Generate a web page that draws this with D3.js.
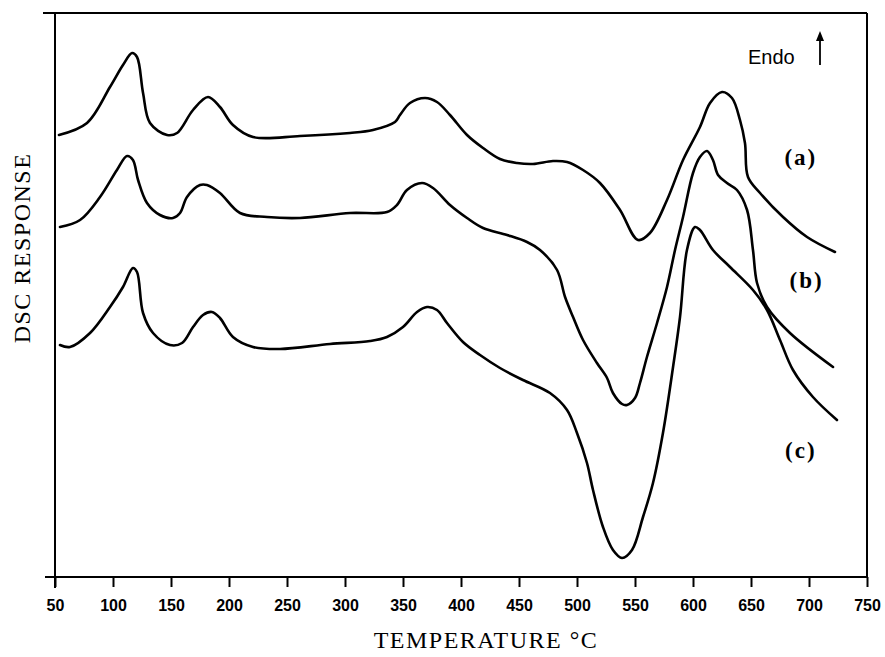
<!DOCTYPE html>
<html>
<head>
<meta charset="utf-8">
<script src="https://cdn.jsdelivr.net/npm/d3@7"></script>
<style>
  body { margin: 0; background: #fff; }
  svg { display: block; }
</style>
</head>
<body>
<div id="chart"></div>
<script>
/**
 * CONSTANTS AND GLOBALS
 * */
const width = 885,
  height = 657,
  margin = { top: 13, right: 18, bottom: 80, left: 55 };

// x tick labels (temperature, °C)
const xTicks = [50, 100, 150, 200, 250, 300, 350, 400, 450, 500, 550, 600, 650, 700, 750];

// curve (a) - temperature / DSC response (arbitrary units)
const tempA = [53.4, 77.6, 97.4, 108.6, 116.4, 120.7, 125.9, 131.9, 146.6, 155.2, 169, 181.9, 192.2, 203.4, 220.7,
  261.2, 304.3, 324.1, 343.1, 347.4, 356, 369, 379.3, 390.5, 405.2, 419, 433.6, 448.3, 462.1, 479.3, 491.4, 505.2,
  519.8, 537.1, 552.6, 562.9, 577.6, 591.4, 606, 614.7, 625, 633.6, 640.5, 644.8, 647.4, 657.8, 677.6, 698.3, 722.4];
const dscA = [44.2, 45.4, 49.0, 51.2, 52.4, 52.0, 48.4, 45.4, 44.2, 44.4, 46.7, 48.0, 47.0, 45.2, 44.0,
  44.1, 44.4, 44.7, 45.5, 46.2, 47.4, 47.9, 47.5, 46.2, 44.2, 42.9, 41.8, 41.4, 41.3, 41.6, 41.5, 40.7,
  39.4, 36.7, 33.7, 34.4, 37.7, 41.7, 45.0, 47.4, 48.5, 47.9, 45.7, 43.4, 40.0, 38.4, 36.0, 34.0, 32.5];

// curve (b)
const tempB = [54.3, 71.6, 88.8, 103.4, 112.1, 117.2, 121.6, 129.3, 140.5, 151.7, 157.8, 163.8, 175, 181, 192.2,
  209.5, 232.8, 261.2, 304.3, 336.2, 344.8, 353.4, 366.4, 375.9, 390.5, 405.2, 419, 439.7, 456.9, 468.1, 482.8,
  489.7, 496.6, 505.2, 517.2, 525.9, 531, 538.8, 543.1, 550, 554.3, 560.3, 569, 577.6, 584.5, 591.4, 600, 606,
  612.1, 617.2, 621.6, 629.3, 637.9, 646.6, 651.7, 655.2, 663.8, 683.6, 720.7];
const dscB = [35.0, 35.7, 38.0, 40.7, 42.1, 41.7, 39.7, 37.4, 36.2, 35.9, 36.4, 38.0, 39.2, 39.2, 38.4,
  36.4, 36.0, 35.9, 36.4, 36.5, 37.2, 38.7, 39.4, 38.9, 37.2, 35.9, 34.9, 34.2, 33.5, 32.7, 30.7,
  28.0, 26.0, 23.7, 21.4, 19.9, 18.4, 17.3, 17.2, 17.9, 19.4, 22.0, 25.4, 29.0, 32.7, 36.0, 40.4, 42.0,
  42.6, 41.7, 40.2, 39.4, 38.7, 36.7, 32.7, 29.4, 27.0, 24.4, 21.0];

// curve (c)
const tempC = [54.3, 62.9, 80.2, 97.4, 108.6, 117.2, 120.7, 125.9, 134.5, 149.1, 159.5, 169, 177.6, 185.3, 192.2,
  203.4, 220.7, 244, 287.1, 321.6, 336.2, 350, 362.1, 370.7, 379.3, 387.9, 401.7, 416.4, 433.6, 453.4, 476.7,
  491.4, 500, 508.6, 513.8, 522.4, 531, 538.8, 547.4, 556.9, 565.5, 574.1, 582.8, 588.8, 594.8, 601.7, 606,
  617.2, 631.9, 651.7, 663.8, 675, 686.2, 703.4, 724.1];
const dscC = [23.2, 23.0, 24.4, 27.0, 29.0, 30.9, 30.5, 26.4, 24.4, 23.2, 23.4, 25.0, 26.2, 26.5, 25.9,
  24.0, 23.0, 22.8, 23.3, 23.6, 24.0, 25.0, 26.5, 27.0, 26.7, 25.4, 23.5, 22.2, 20.9, 19.7, 18.4,
  16.7, 14.4, 11.4, 8.7, 5.0, 2.7, 1.9, 2.7, 6.0, 9.4, 14.4, 21.0, 26.0, 32.7, 35.0, 34.7,
  32.7, 31.0, 28.7, 26.7, 23.7, 20.7, 18.0, 15.7];

const seriesNames = ["(a)", "(b)", "(c)"];
// where each name sits: temperature, response
const labelT = [693, 698, 693];
const labelV = [41.2, 28.9, 11.9];

/**
 * DRAW
 * */
const svg = d3.select("#chart")
  .append("svg")
  .attr("width", width)
  .attr("height", height);

const xScale = d3.scaleLinear()
  .domain([50, 750])
  .range([margin.left, width - margin.right]);

const yScale = d3.scaleLinear()
  .domain([0, 56.4])
  .range([height - margin.bottom, margin.top]);

const x0 = margin.left, x1 = width - margin.right;
const y0 = height - margin.bottom, y1 = margin.top;

// frame (the axes cross at bottom-left like in the paper figure)
const frame = svg.append("g").attr("stroke", "#000").attr("stroke-width", 2).attr("fill", "none");
frame.append("line").attr("x1", x0 - 12).attr("x2", x1).attr("y1", y1).attr("y2", y1);
frame.append("line").attr("x1", x1).attr("x2", x1).attr("y1", y1).attr("y2", y0);
frame.append("line").attr("x1", x0).attr("x2", x0).attr("y1", y1).attr("y2", y0 + 11);
frame.append("line").attr("x1", x0 - 10).attr("x2", x1).attr("y1", y0).attr("y2", y0);

// x axis
const xAxis = d3.axisBottom(xScale)
  .tickValues(xTicks)
  .tickFormat(d3.format("d"))
  .tickSize(10)
  .tickSizeOuter(0)
  .tickPadding(13);

const gx = svg.append("g")
  .attr("transform", `translate(0,${y0})`)
  .call(xAxis);
gx.select(".domain").remove();
gx.selectAll(".tick line").attr("stroke", "#000").attr("stroke-width", 2);
gx.selectAll(".tick text")
  .attr("fill", "#000")
  .attr("font-family", "'Liberation Sans', Arial, sans-serif")
  .attr("font-weight", "bold")
  .attr("font-size", 16);

// axis titles
svg.append("text")
  .attr("x", 486)
  .attr("y", 648)
  .attr("text-anchor", "middle")
  .attr("font-family", "'Liberation Serif', 'Times New Roman', serif")
  .attr("font-size", 24)
  .attr("letter-spacing", 1.5)
  .text("TEMPERATURE °C");

svg.append("text")
  .attr("transform", "translate(30,248) rotate(-90)")
  .attr("text-anchor", "middle")
  .attr("font-family", "'Liberation Serif', 'Times New Roman', serif")
  .attr("font-size", 24)
  .attr("letter-spacing", 1.5)
  .text("DSC RESPONSE");

// curves
const line = d3.line()
  .x(d => xScale(d.t))
  .y(d => yScale(d.v))
  .curve(d3.curveCatmullRom.alpha(0.5));

const curves = [
  tempA.map((t, i) => ({ t, v: dscA[i] })),
  tempB.map((t, i) => ({ t, v: dscB[i] })),
  tempC.map((t, i) => ({ t, v: dscC[i] }))
];

svg.append("g")
  .selectAll("path")
  .data(curves)
  .join("path")
  .attr("d", line)
  .attr("fill", "none")
  .attr("stroke", "#000")
  .attr("stroke-width", 2.6)
  .attr("stroke-linejoin", "round")
  .attr("stroke-linecap", "round");

// curve labels (a) (b) (c)
svg.append("g")
  .selectAll("text")
  .data(seriesNames)
  .join("text")
  .attr("x", (d, i) => xScale(labelT[i]))
  .attr("y", (d, i) => yScale(labelV[i]))
  .attr("text-anchor", "middle")
  .attr("font-family", "'Liberation Serif', 'Times New Roman', serif")
  .attr("font-weight", "bold")
  .attr("font-size", 23)
  .attr("letter-spacing", 2)
  .text(d => d);

// Endo arrow
svg.append("text")
  .attr("x", 748)
  .attr("y", 64)
  .attr("font-family", "'Liberation Sans', Arial, sans-serif")
  .attr("font-size", 20)
  .text("Endo");

svg.append("line")
  .attr("x1", 820).attr("x2", 820)
  .attr("y1", 65).attr("y2", 38)
  .attr("stroke", "#000")
  .attr("stroke-width", 1.8);
svg.append("path")
  .attr("d", "M820,31 L816,41 L824,41 Z")
  .attr("fill", "#000");
</script>
</body>
</html>
